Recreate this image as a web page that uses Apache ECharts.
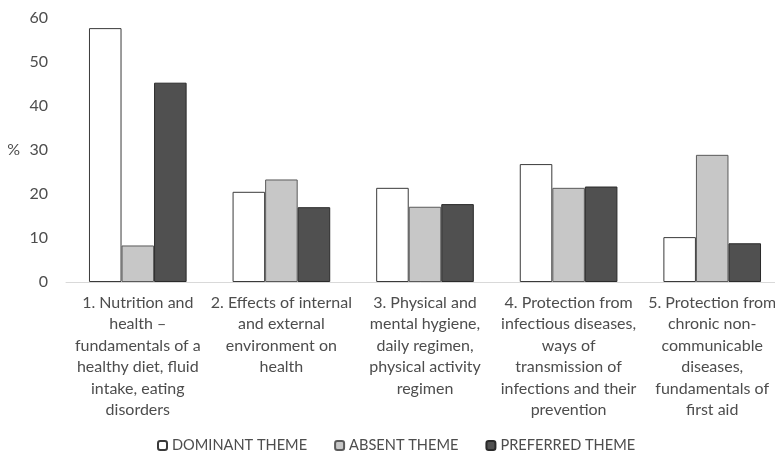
<!DOCTYPE html>
<html>
<head>
<meta charset="utf-8">
<script src="https://cdn.jsdelivr.net/npm/echarts@6/dist/echarts.min.js"></script>
<style>html,body{margin:0;padding:0;background:#fff}#c{width:775px;height:455px}</style>
</head>
<body>
<div id="c"></div>
<script>
var categories = [
  "1. Nutrition and\nhealth \u2013\nfundamentals of a\nhealthy diet, fluid\nintake, eating\ndisorders",
  "2. Effects of internal\nand external\nenvironment on\nhealth",
  "3. Physical and\nmental hygiene,\ndaily regimen,\nphysical activity\nregimen",
  "4. Protection from\ninfectious diseases,\nways of\ntransmission of\ninfections and their\nprevention",
  "5. Protection from\nchronic non-\ncommunicable\ndiseases,\nfundamentals of\nfirst aid"
];
var seriesNames = ["DOMINANT THEME", "ABSENT THEME", "PREFERRED THEME"];
var dominant = [57.7, 20.5, 21.4, 26.8, 10.2];
var absent = [8.3, 23.3, 17.1, 21.4, 28.9];
var preferred = [45.3, 17.0, 17.7, 21.7, 8.8];
var yTicks = [0, 10, 20, 30, 40, 50, 60];

var fills = ["#ffffff", "#c7c7c7", "#505050"];
var borders = ["#3a3a3a", "#5a5a5a", "#2a2a2a"];
var FONT = "Lato";
var TXT = "#4d4d4d";

var chart = echarts.init(document.getElementById('c'), null, {renderer: 'canvas'});
var values = [dominant, absent, preferred];
chart.setOption({
  animation: false,
  textStyle: {fontFamily: FONT},
  grid: {left: 66, width: 718, top: 18, bottom: 173, containLabel: false, outerBoundsMode: 'none'},
  legend: {
    bottom: -3,
    left: 152,
    itemWidth: 9, itemHeight: 9, itemGap: 27,
    textStyle: {color: TXT, fontSize: 14.6, fontFamily: FONT},
    data: seriesNames
  },
  xAxis: {
    type: 'category',
    data: categories,
    axisLine: {lineStyle: {color: '#d9d9d9', width: 1}},
    axisTick: {show: false},
    axisLabel: {color: TXT, fontSize: 16, lineHeight: 21.5, margin: 10, interval: 0, fontFamily: FONT}
  },
  yAxis: {
    type: 'value',
    min: yTicks[0], max: yTicks[yTicks.length - 1], interval: 10,
    name: '%',
    nameLocation: 'middle',
    nameRotate: 0,
    nameGap: 46,
    nameTextStyle: {color: TXT, fontSize: 16, fontFamily: FONT, padding: [10, 0, 0, 0]},
    axisLine: {show: false},
    axisTick: {show: false},
    splitLine: {show: false},
    axisLabel: {color: TXT, fontSize: 16, margin: 18, fontFamily: FONT}
  },
  series: values.map(function (v, i) {
    return {
      name: seriesNames[i],
      type: 'bar',
      data: v,
      barGap: '0%',
      barCategoryGap: '32%',
      itemStyle: {color: fills[i], borderColor: borders[i], borderWidth: 1}
    };
  })
});
</script>
</body>
</html>
